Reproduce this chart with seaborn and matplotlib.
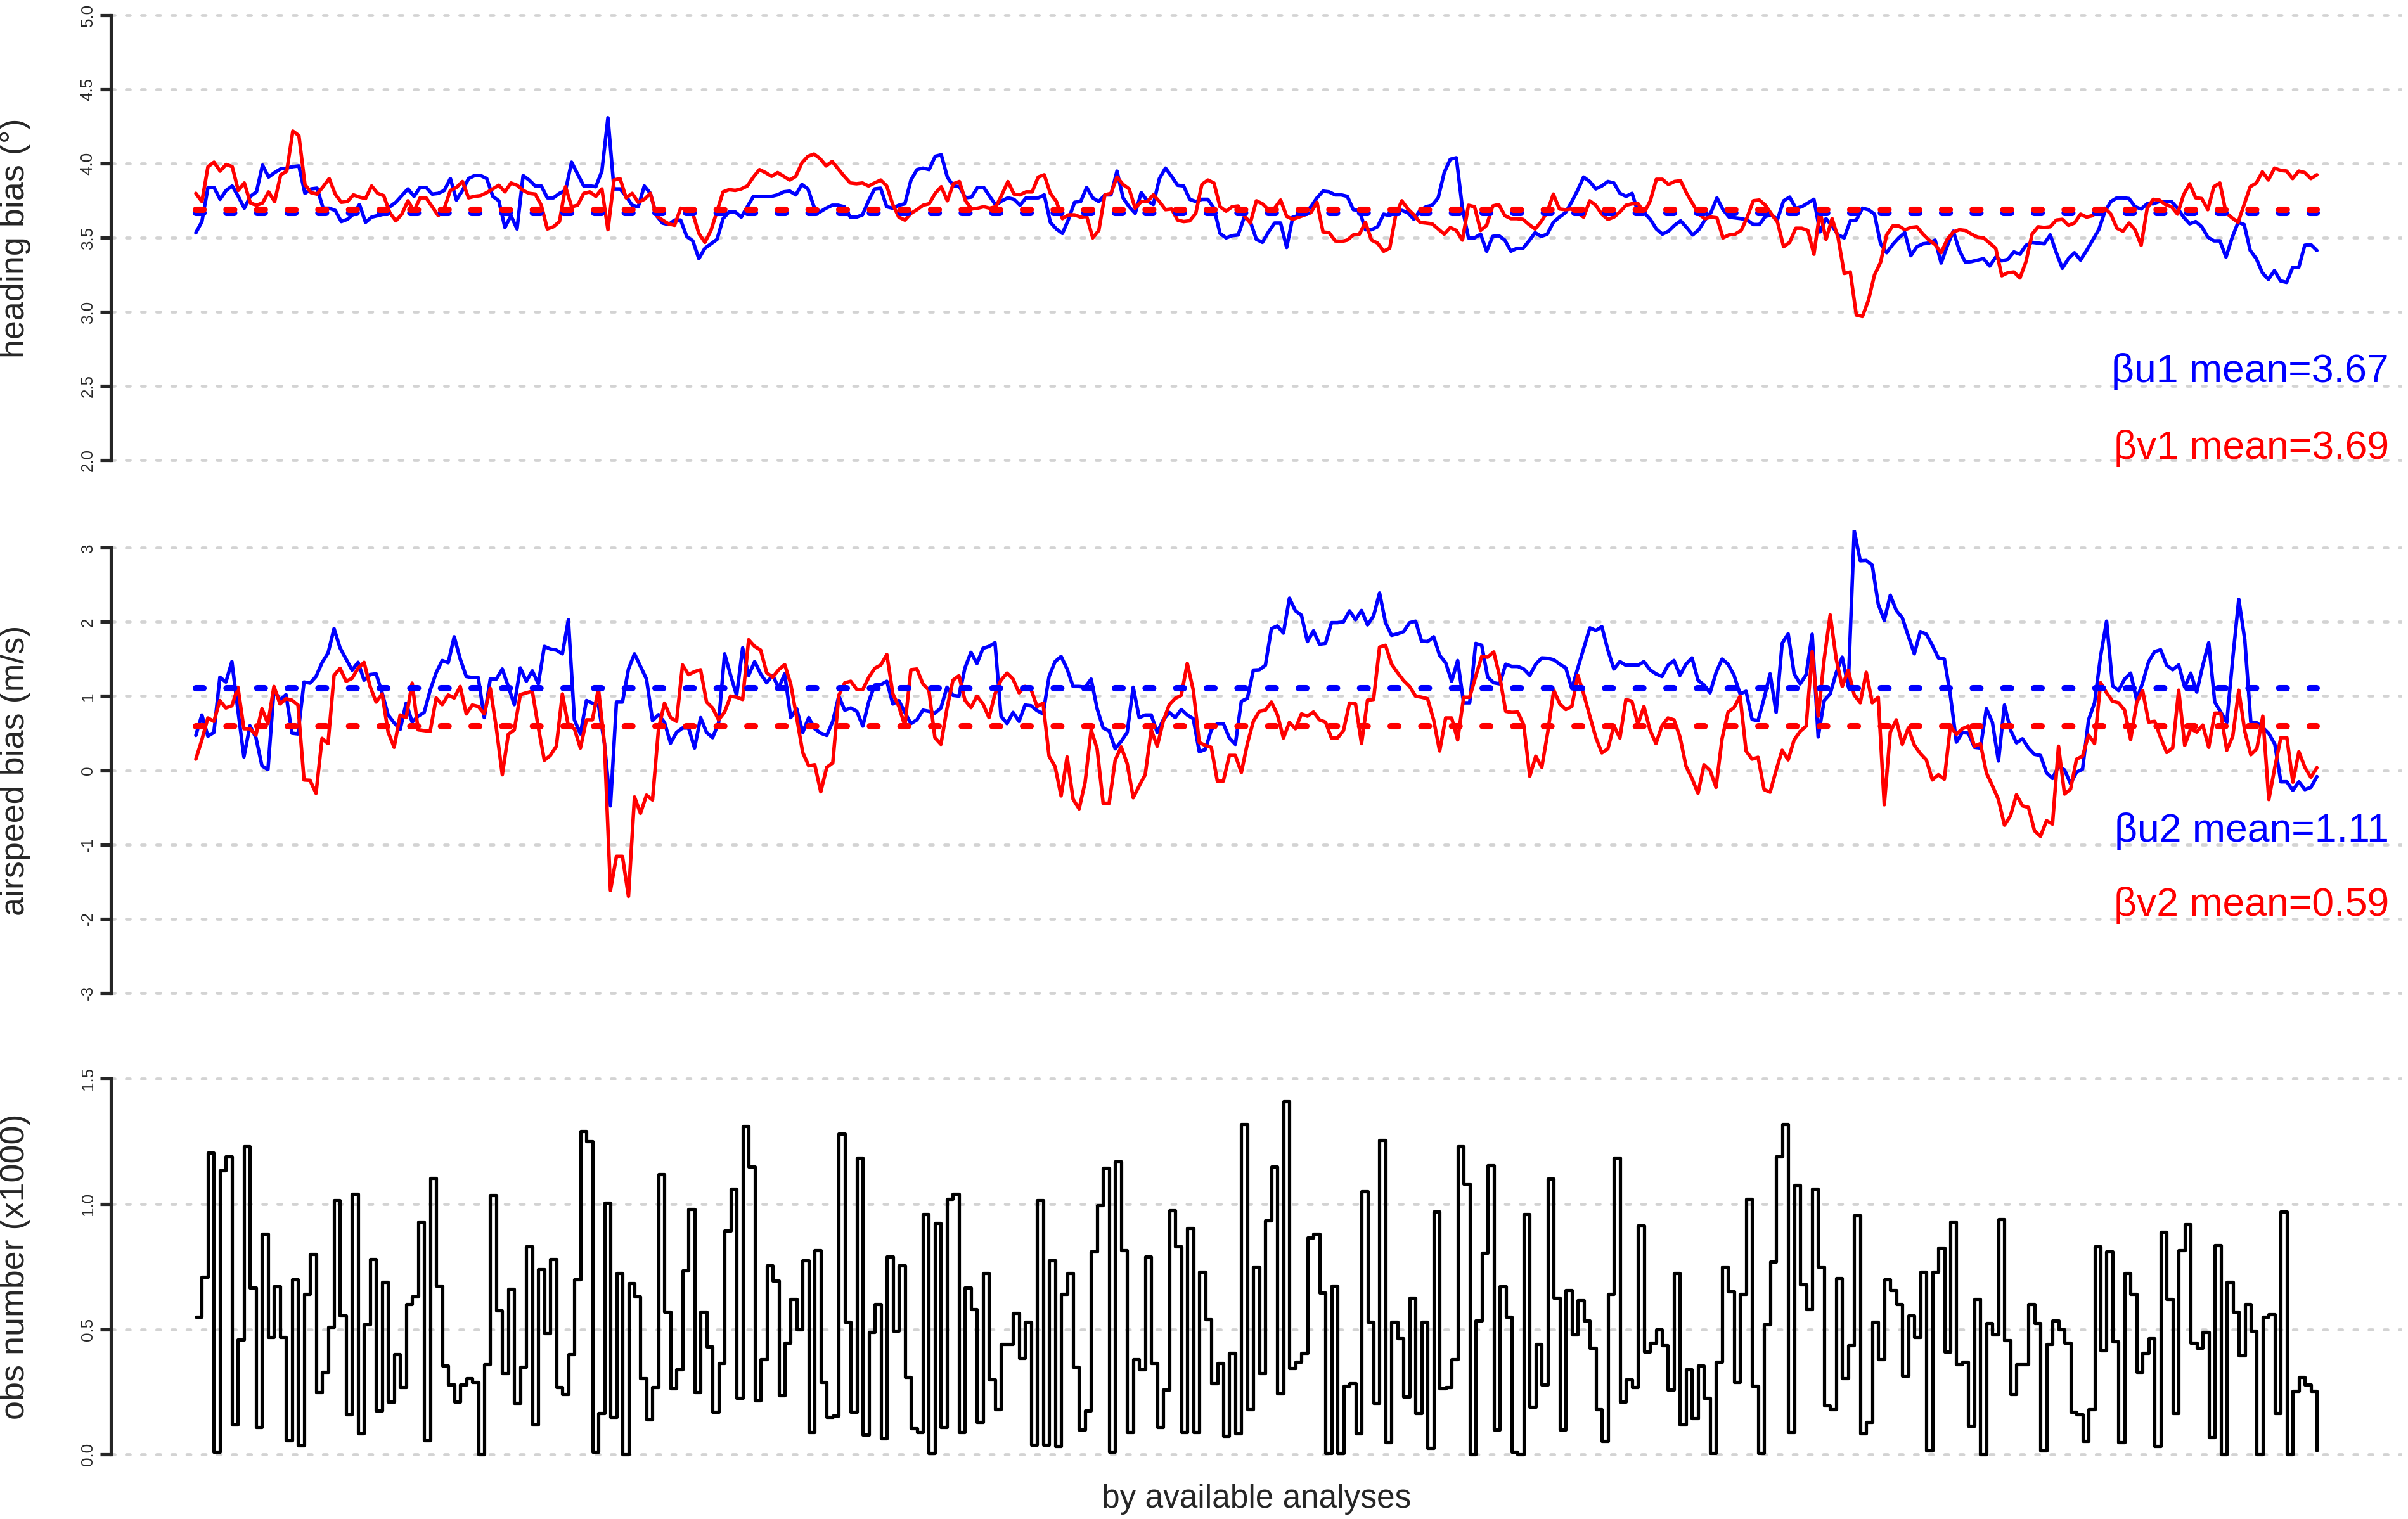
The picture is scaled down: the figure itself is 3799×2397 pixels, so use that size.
import numpy as np
import matplotlib.pyplot as plt
import seaborn as sns

# heading bias (deg)
beta_u1 = [3.534, 3.61, 3.84, 3.84, 3.76, 3.82, 3.85, 3.78, 3.70, 3.78,
           3.81, 3.99, 3.91, 3.94, 3.965, 3.97, 3.98, 3.985, 3.80, 3.83,
           3.835, 3.70, 3.70, 3.685, 3.61, 3.625, 3.66, 3.725, 3.605, 3.64,
           3.65, 3.66, 3.71, 3.74, 3.785, 3.83, 3.78, 3.84, 3.84, 3.795,
           3.80, 3.82, 3.90, 3.755, 3.82, 3.90, 3.92, 3.92, 3.90, 3.78,
           3.75, 3.57, 3.65, 3.56, 3.92, 3.89, 3.85, 3.85, 3.77, 3.77,
           3.80, 3.82, 4.01, 3.93, 3.85, 3.85, 3.845, 3.95, 4.31, 3.83,
           3.83, 3.78, 3.72, 3.71, 3.85, 3.80, 3.65, 3.60, 3.59, 3.62,
           3.62, 3.51, 3.48, 3.36, 3.43, 3.46, 3.49, 3.63, 3.675,
           3.675, 3.64, 3.71, 3.78, 3.78, 3.78, 3.78, 3.79, 3.81, 3.815,
           3.79, 3.86, 3.83, 3.71, 3.675, 3.70, 3.72, 3.72, 3.71, 3.64,
           3.64, 3.655, 3.75, 3.83, 3.835, 3.71, 3.70, 3.72, 3.73, 3.89,
           3.96, 3.97, 3.96, 4.05, 4.06, 3.91, 3.85, 3.845, 3.77, 3.775,
           3.84, 3.84, 3.78, 3.72, 3.75, 3.77, 3.76, 3.72, 3.77, 3.77,
           3.77, 3.79, 3.605, 3.56, 3.53, 3.625, 3.74, 3.745, 3.84, 3.77,
           3.745, 3.79, 3.79, 3.95, 3.77, 3.71, 3.665, 3.805, 3.75, 3.725,
           3.90, 3.97, 3.915, 3.855, 3.85, 3.76, 3.745, 3.76, 3.76, 3.70,
           3.53, 3.50, 3.515, 3.52, 3.64, 3.61, 3.49, 3.47,
           3.54, 3.60, 3.60, 3.435, 3.64, 3.65, 3.67, 3.71, 3.77, 3.815,
           3.81, 3.79, 3.79, 3.78, 3.69, 3.685, 3.555, 3.555, 3.575, 3.66,
           3.65, 3.685, 3.685, 3.67, 3.625, 3.685, 3.71, 3.72, 3.77, 3.94,
           4.03, 4.04, 3.70, 3.50, 3.50, 3.525, 3.41, 3.51, 3.515, 3.485,
           3.41, 3.43, 3.43, 3.48, 3.535, 3.51, 3.525, 3.605, 3.64, 3.67,
           3.74, 3.82, 3.91, 3.88, 3.83, 3.85, 3.88, 3.87, 3.80, 3.78,
           3.80, 3.67, 3.67, 3.625, 3.56, 3.525, 3.545, 3.585, 3.615, 3.57,
           3.52, 3.555, 3.62, 3.67, 3.77, 3.69, 3.64, 3.635, 3.63, 3.62,
           3.59, 3.59, 3.645, 3.655, 3.625, 3.75, 3.775,
           3.70, 3.71, 3.735, 3.76, 3.54, 3.63, 3.58, 3.52, 3.50, 3.615,
           3.62, 3.70, 3.69, 3.66, 3.46, 3.40, 3.455, 3.50, 3.535, 3.38,
           3.44, 3.46, 3.465, 3.485, 3.33, 3.445, 3.545, 3.415, 3.335, 3.34,
           3.35, 3.36, 3.31, 3.37, 3.345, 3.355, 3.405, 3.39, 3.45, 3.47,
           3.465, 3.46, 3.52, 3.40, 3.295, 3.36, 3.40, 3.35, 3.415, 3.485,
           3.555, 3.675, 3.745, 3.77, 3.77, 3.765, 3.71, 3.695, 3.73, 3.73,
           3.745, 3.745, 3.745, 3.70, 3.64, 3.595, 3.61, 3.575, 3.505, 3.48,
           3.48, 3.37, 3.50, 3.605, 3.59, 3.415, 3.36, 3.265, 3.22, 3.28,
           3.21, 3.20, 3.30, 3.30, 3.45, 3.455, 3.415]

beta_v1 = [3.80, 3.745, 3.98, 4.01, 3.95, 3.995, 3.98, 3.82, 3.87, 3.735,
           3.72, 3.735, 3.81, 3.745, 3.925, 3.95, 4.22, 4.19, 3.86, 3.805,
           3.795, 3.845, 3.90, 3.795, 3.74, 3.745, 3.79, 3.775, 3.765, 3.85,
           3.80, 3.785, 3.67, 3.615, 3.66, 3.75, 3.68, 3.77, 3.77, 3.71,
           3.65, 3.70, 3.82, 3.84, 3.88, 3.77, 3.78, 3.785, 3.805, 3.83,
           3.855, 3.81, 3.87, 3.855, 3.82, 3.80, 3.795, 3.72, 3.56, 3.575,
           3.61, 3.845, 3.71, 3.72, 3.80, 3.81, 3.78, 3.83, 3.555, 3.89,
           3.90, 3.77, 3.80, 3.74, 3.76, 3.80, 3.65, 3.62, 3.595, 3.585,
           3.70, 3.69, 3.665, 3.53, 3.47, 3.55, 3.68, 3.81, 3.825,
           3.82, 3.83, 3.85, 3.91, 3.96, 3.94, 3.915, 3.94, 3.915, 3.89,
           3.915, 4.005, 4.05, 4.065, 4.035, 3.985, 4.015, 3.965, 3.915, 3.87,
           3.865, 3.87, 3.85, 3.87, 3.89, 3.85, 3.725, 3.64, 3.62, 3.665,
           3.69, 3.72, 3.73, 3.80, 3.845, 3.75, 3.865, 3.88, 3.75, 3.695,
           3.70, 3.71, 3.70, 3.71, 3.79, 3.88, 3.795, 3.79, 3.81, 3.81,
           3.91, 3.925, 3.80, 3.745, 3.63, 3.655, 3.655, 3.64, 3.645, 3.50,
           3.55, 3.79, 3.80, 3.91, 3.86, 3.83, 3.70, 3.745, 3.745, 3.79,
           3.745, 3.69, 3.695, 3.62, 3.61, 3.615, 3.665, 3.86, 3.89, 3.87,
           3.71, 3.68, 3.71, 3.715, 3.65, 3.60, 3.75, 3.73,
           3.69, 3.70, 3.755, 3.645, 3.625, 3.64, 3.655, 3.67, 3.74, 3.54,
           3.535, 3.48, 3.475, 3.485, 3.52, 3.525, 3.605, 3.485, 3.465, 3.41,
           3.43, 3.655, 3.75, 3.695, 3.655, 3.605, 3.60, 3.595, 3.56, 3.525,
           3.57, 3.55, 3.485, 3.72, 3.71, 3.55, 3.585, 3.715, 3.725, 3.65,
           3.63, 3.63, 3.625, 3.59, 3.56, 3.61, 3.675, 3.795, 3.695, 3.69,
           3.695, 3.67, 3.64, 3.75, 3.72, 3.66, 3.625, 3.64, 3.675, 3.72,
           3.73, 3.73, 3.67, 3.75, 3.895, 3.895, 3.86, 3.88, 3.885, 3.80,
           3.73, 3.66, 3.63, 3.64, 3.635, 3.50, 3.52, 3.525, 3.55, 3.64,
           3.75, 3.755, 3.72, 3.66, 3.605, 3.44, 3.47,
           3.565, 3.565, 3.55, 3.39, 3.68, 3.49, 3.63, 3.50, 3.26, 3.27,
           2.98, 2.97, 3.08, 3.25, 3.335, 3.52, 3.58, 3.58, 3.555, 3.57,
           3.575, 3.525, 3.485, 3.455, 3.40, 3.49, 3.54, 3.555, 3.55, 3.525,
           3.505, 3.50, 3.465, 3.43, 3.245, 3.265, 3.27, 3.23, 3.34, 3.525,
           3.575, 3.57, 3.575, 3.62, 3.625, 3.585, 3.60, 3.66, 3.64, 3.65,
           3.695, 3.70, 3.66, 3.565, 3.545, 3.60, 3.555, 3.45, 3.70, 3.76,
           3.755, 3.725, 3.71, 3.66, 3.79, 3.865, 3.77, 3.765, 3.69, 3.845,
           3.87, 3.67, 3.635, 3.605, 3.725, 3.845, 3.87, 3.945, 3.89, 3.97,
           3.955, 3.95, 3.90, 3.95, 3.94, 3.90, 3.925]

# airspeed bias (m/s), middle panel
beta_u2 = [0.47, 0.745, 0.46, 0.51, 1.255, 1.19, 1.465, 0.81, 0.18, 0.60,
           0.44, 0.06, 0.01, 1.09, 0.945, 1.02, 0.50, 0.49, 1.19, 1.175,
           1.265, 1.45, 1.58, 1.91, 1.65, 1.50, 1.35, 1.455, 1.215, 1.29,
           1.30, 1.045, 0.745, 0.64, 0.55, 0.905, 0.65, 0.73, 0.78, 1.08,
           1.315, 1.48, 1.45, 1.80, 1.50, 1.265, 1.25, 1.25, 0.71, 1.23,
           1.23, 1.365, 1.13, 0.885, 1.38, 1.20, 1.34, 1.165, 1.67, 1.635,
           1.62, 1.57, 2.03, 0.68, 0.49, 0.94, 0.905, 0.88, 0.36, -0.48,
           0.92, 0.92, 1.365, 1.57, 1.40, 1.23, 0.67, 0.75, 0.645, 0.365,
           0.51, 0.57, 0.57, 0.30, 0.71, 0.51, 0.44, 0.64, 1.57, 1.28,
           1.01, 1.65, 1.28, 1.465, 1.30, 1.18, 1.28, 1.11, 1.30, 0.71,
           0.83, 0.51, 0.71, 0.56, 0.50, 0.47, 0.66, 1.00, 0.81, 0.84,
           0.795, 0.595, 0.93, 1.15, 1.155, 1.20, 0.895, 0.94, 0.78, 0.63,
           0.68, 0.81, 0.795, 0.77, 0.84, 1.12, 1.01, 1.00, 1.38, 1.59,
           1.44, 1.645, 1.67, 1.72, 0.73, 0.63, 0.78, 0.66, 0.88, 0.87,
           0.805, 0.76, 1.265, 1.465, 1.535, 1.365, 1.13, 1.13, 1.12, 1.23,
           0.83, 0.57, 0.53, 0.29, 0.39, 0.51, 1.12, 0.71, 0.745, 0.745,
           0.51, 0.68, 0.78, 0.71, 0.82, 0.745, 0.695, 0.25, 0.28, 0.545,
           0.63, 0.63, 0.435, 0.35, 0.93, 0.97, 1.35, 1.355,
           1.415, 1.91, 1.945, 1.85, 2.32, 2.15, 2.09, 1.735, 1.88, 1.70,
           1.71, 1.99, 1.99, 2.00, 2.15, 2.03, 2.155, 1.96, 2.08, 2.39,
           1.99, 1.82, 1.84, 1.87, 1.99, 2.01, 1.74, 1.735, 1.80, 1.55,
           1.45, 1.20, 1.48, 0.91, 0.91, 1.71, 1.685, 1.255, 1.18, 1.165,
           1.43, 1.40, 1.40, 1.365, 1.28, 1.43, 1.515, 1.51, 1.49, 1.43,
           1.38, 1.10, 1.38, 1.65, 1.92, 1.885, 1.935, 1.62, 1.365, 1.465,
           1.415, 1.42, 1.415, 1.465, 1.355, 1.30, 1.265, 1.415, 1.48, 1.28,
           1.43, 1.515, 1.215, 1.15, 1.045, 1.315, 1.50, 1.43, 1.28, 1.03,
           1.065, 0.685, 0.67, 0.97, 1.30, 0.78, 1.71, 1.84, 1.30,
           1.165, 1.29, 1.835, 0.45, 0.94, 1.03, 1.315, 1.525, 1.13, 3.23,
           2.825, 2.83, 2.765, 2.24, 2.02, 2.36, 2.155, 2.055, 1.81, 1.57,
           1.87, 1.835, 1.685, 1.515, 1.50, 1.01, 0.38, 0.51, 0.50, 0.31,
           0.30, 0.83, 0.645, 0.125, 0.88, 0.545, 0.37, 0.425, 0.30, 0.215,
           0.20, -0.035, -0.11, 0.055, 0.005, -0.18, -0.025, 0.015, 0.68, 0.91,
           1.535, 2.01, 1.14, 1.075, 1.23, 1.31, 0.95, 1.18, 1.465, 1.60,
           1.625, 1.415, 1.355, 1.42, 1.12, 1.31, 1.055, 1.41, 1.72, 0.92,
           0.785, 0.645, 1.51, 2.305, 1.76, 0.65, 0.64, 0.575, 0.495, 0.35,
           -0.155, -0.155, -0.27, -0.155, -0.26, -0.23, -0.085]

beta_v2 = [0.15, 0.41, 0.705, 0.66, 0.94, 0.84, 0.87, 1.12, 0.56, 0.56,
           0.475, 0.83, 0.63, 1.13, 0.895, 0.965, 0.945, 0.88, -0.13, -0.135,
           -0.31, 0.43, 0.36, 1.28, 1.375, 1.20, 1.24, 1.375, 1.455, 1.13,
           0.92, 1.03, 0.515, 0.31, 0.745, 0.71, 1.175, 0.545, 0.535, 0.525,
           0.975, 0.885, 1.015, 0.975, 1.13, 0.76, 0.88, 0.86, 0.76, 1.105,
           0.575, -0.06, 0.485, 0.545, 1.02, 1.045, 1.065, 0.575, 0.135, 0.20,
           0.325, 1.03, 0.595, 0.56, 0.30, 0.68, 0.68, 1.10, 0.36, -1.62,
           -1.16, -1.16, -1.70, -0.36, -0.58, -0.335, -0.40, 0.56, 0.905, 0.71,
           0.66, 1.42, 1.29, 1.33, 1.355, 0.92, 0.84, 0.68, 0.785, 1.00,
           0.985, 0.955, 1.76, 1.67, 1.62, 1.315, 1.255, 1.355, 1.425, 1.165,
           0.71, 0.24, 0.06, 0.075, -0.29, 0.04, 0.10, 1.01, 1.18, 1.20,
           1.09, 1.09, 1.255, 1.375, 1.42, 1.56, 1.03, 0.86, 0.60, 1.355,
           1.365, 1.165, 1.08, 0.44, 0.35, 0.83, 1.215, 1.275, 0.945, 0.845,
           1.00, 0.895, 0.71, 1.03, 1.215, 1.31, 1.23, 1.045, 1.13, 1.09,
           0.86, 0.905, 0.19, 0.05, -0.345, 0.18, -0.39, -0.52, -0.16, 0.545,
           0.29, -0.445, -0.445, 0.135, 0.315, 0.09, -0.37, -0.21, -0.06, 0.545,
           0.325, 0.66, 0.885, 0.97, 1.01, 1.44, 1.08, 0.375, 0.335, 0.31,
           -0.145, -0.145, 0.20, 0.20, -0.03, 0.36, 0.66, 0.795,
           0.81, 0.92, 0.75, 0.435, 0.645, 0.56, 0.76, 0.73, 0.785, 0.68,
           0.65, 0.435, 0.435, 0.535, 0.905, 0.895, 0.36, 0.945, 0.955, 1.66,
           1.685, 1.43, 1.315, 1.21, 1.13, 1.00, 0.985, 0.965, 0.68, 0.26,
           0.705, 0.705, 0.41, 0.985, 0.985, 1.265, 1.535, 1.525, 1.595, 1.265,
           0.795, 0.78, 0.785, 0.61, -0.08, 0.19, 0.04, 0.515, 1.08, 0.895,
           0.82, 0.86, 1.28, 1.02, 0.73, 0.44, 0.235, 0.29, 0.60, 0.435,
           0.955, 0.93, 0.62, 0.86, 0.545, 0.36, 0.60, 0.705, 0.68, 0.45,
           0.055, -0.11, -0.31, 0.075, 0.0, -0.23, 0.425, 0.785, 0.845, 1.00,
           0.26, 0.15, 0.175, -0.26, -0.295, 0.0, 0.27, 0.14, 0.41,
           0.525, 0.595, 1.60, 0.73, 1.50, 2.095, 1.50, 1.13, 1.35, 1.015,
           0.91, 1.32, 0.91, 0.985, -0.465, 0.515, 0.68, 0.35, 0.57, 0.34,
           0.225, 0.14, -0.13, -0.06, -0.12, 0.595, 0.485, 0.56, 0.595, 0.325,
           0.36, -0.035, -0.21, -0.395, -0.74, -0.615, -0.33, -0.48, -0.50, -0.815,
           -0.89, -0.68, -0.725, 0.325, -0.32, -0.255, 0.15, 0.19, 0.475, 0.36,
           1.18, 1.045, 0.93, 0.91, 0.81, 0.415, 0.91, 1.075, 0.65, 0.66,
           0.44, 0.24, 0.30, 1.08, 0.335, 0.56, 0.515, 0.61, 0.31, 0.77,
           0.77, 0.27, 0.46, 1.08, 0.525, 0.21, 0.29, 0.73, -0.395, 0.04,
           0.44, 0.44, -0.16, 0.25, 0.04, -0.095, 0.035]

# obs number (x1000), bottom step panel
obs_k = [0.55, 0.71, 1.205, 0.01, 1.135, 1.19, 0.12, 0.46, 1.23, 0.665,
         0.11, 0.88, 0.47, 0.67, 0.47, 0.056, 0.70, 0.036, 0.64, 0.80,
         0.25, 0.33, 0.51, 1.015, 0.555, 0.16, 1.04, 0.085, 0.52, 0.78,
         0.175, 0.69, 0.21, 0.40, 0.27, 0.60, 0.63, 0.93, 0.056, 1.105,
         0.675, 0.356, 0.28, 0.21, 0.28, 0.305, 0.29, 0.0, 0.36, 1.035,
         0.575, 0.325, 0.66, 0.205, 0.35, 0.83, 0.12, 0.74, 0.485, 0.78,
         0.27, 0.24, 0.40, 0.70, 1.29, 1.25, 0.01, 0.165, 1.005, 0.15,
         0.725, 0.0, 0.685, 0.63, 0.305, 0.14, 0.27, 1.12, 0.57, 0.265,
         0.34, 0.735, 0.98, 0.25, 0.57, 0.43, 0.17, 0.365, 0.895,
         1.06, 0.225, 1.31, 1.15, 0.215, 0.38, 0.755, 0.695, 0.235, 0.445,
         0.62, 0.50, 0.775, 0.09, 0.815, 0.29, 0.15, 0.155, 1.28, 0.53,
         0.17, 1.185, 0.08, 0.49, 0.60, 0.065, 0.79, 0.495, 0.755, 0.31,
         0.105, 0.09, 0.96, 0.005, 0.925, 0.11, 1.02, 1.04, 0.09, 0.665,
         0.58, 0.13, 0.725, 0.30, 0.18, 0.44, 0.44, 0.565, 0.385, 0.53,
         0.04, 1.015, 0.04, 0.775, 0.035, 0.64, 0.725, 0.35, 0.10, 0.175,
         0.81, 0.995, 1.145, 0.01, 1.17, 0.815, 0.09, 0.38, 0.34, 0.79,
         0.365, 0.11, 0.26, 0.975, 0.83, 0.09, 0.905, 0.09, 0.73, 0.54,
         0.285, 0.365, 0.075, 0.405, 0.085, 1.32, 0.18, 0.75, 0.325, 0.935,
         1.15, 0.245, 1.41, 0.345, 0.37, 0.405, 0.865, 0.88, 0.645, 0.005,
         0.675, 0.005, 0.275, 0.285, 0.085, 1.05, 0.53, 0.205, 1.255, 0.05,
         0.53, 0.465, 0.23, 0.625, 0.165, 0.53, 0.025, 0.97, 0.265, 0.27,
         0.38, 1.23, 1.08, 0.0, 0.535, 0.805, 1.155, 0.10, 0.67, 0.55,
         0.01, 0.0, 0.96, 0.19, 0.44, 0.28, 1.10, 0.625, 0.10, 0.655,
         0.48, 0.615, 0.535, 0.425, 0.18, 0.055, 0.64, 1.185, 0.21, 0.30,
         0.27, 0.915, 0.41, 0.445, 0.50, 0.435, 0.26, 0.725, 0.12, 0.34,
         0.145, 0.355, 0.225, 0.005, 0.37, 0.75, 0.65, 0.29, 0.64, 1.02,
         0.275, 0.005, 0.52, 0.77, 1.19, 1.32,
         0.09, 1.075, 0.68, 0.58, 1.06, 0.75, 0.195, 0.18, 0.705, 0.305,
         0.435, 0.955, 0.085, 0.13, 0.53, 0.38, 0.70, 0.655, 0.60, 0.315,
         0.555, 0.47, 0.73, 0.015, 0.73, 0.825, 0.41, 0.93, 0.36, 0.37,
         0.115, 0.62, 0.0, 0.525, 0.48, 0.94, 0.455, 0.24, 0.36, 0.36,
         0.60, 0.525, 0.015, 0.44, 0.535, 0.50, 0.445, 0.17, 0.16, 0.055,
         0.18, 0.83, 0.415, 0.81, 0.45, 0.05, 0.725, 0.64, 0.33, 0.405,
         0.465, 0.035, 0.89, 0.62, 0.165, 0.815, 0.92, 0.445, 0.425, 0.49,
         0.07, 0.835, 0.0, 0.69, 0.57, 0.395, 0.60, 0.495, 0.0, 0.55,
         0.56, 0.165, 0.97, 0.0, 0.255, 0.31, 0.28, 0.255, 0.017]

mean_u1, mean_v1 = 3.67, 3.69
mean_u2, mean_v2 = 1.11, 0.59

heading_ticks = [2.0, 2.5, 3.0, 3.5, 4.0, 4.5, 5.0]
heading_labels = ["2.0", "2.5", "3.0", "3.5", "4.0", "4.5", "5.0"]
airspeed_ticks = [-3, -2, -1, 0, 1, 2, 3]
airspeed_labels = ["-3", "-2", "-1", "0", "1", "2", "3"]
obs_ticks = [0.0, 0.5, 1.0, 1.5]
obs_labels = ["0.0", "0.5", "1.0", "1.5"]

sns.set_style("ticks")
plt.rcParams['font.family'] = ['Liberation Sans', 'DejaVu Sans']

n = len(obs_k)
x = np.arange(1, n + 1)
pad = 0.04 * (n - 1)

fig = plt.figure(figsize=(3799 / 250, 2397 / 250), dpi=250)
ax1 = fig.add_axes([0.0461, 0.6852, 0.9513, 0.3164])
ax2 = fig.add_axes([0.0461, 0.3347, 0.9513, 0.3164])
ax3 = fig.add_axes([0.0461, 0.0325, 0.9513, 0.2672])


def style_panel(ax, ticks, labels, ylim, ylabel):
    ax.set_xlim(1 - pad, n + pad)
    ax.set_ylim(ylim)
    for t in ticks:
        ax.axhline(t, color='lightgray', lw=1.35, ls=(0, (1.3, 3.8)),
                   dash_capstyle='round', zorder=0)
    ax.set_xticks([])
    ax.set_yticks(ticks)
    ax.set_yticklabels(labels, rotation=90, va='center', fontsize=7.5)
    ax.tick_params(axis='y', length=5, width=1.5, pad=2)
    sns.despine(ax=ax, bottom=True)
    ax.spines['left'].set_bounds(ticks[0], ticks[-1])
    ax.spines['left'].set_linewidth(1.5)
    ax.set_ylabel(ylabel, fontsize=15.5, va='center')
    ax.yaxis.set_label_coords(-0.0418, 0.5)


def draw_pair(ax, u, v, mu, mv):
    xu = np.linspace(1, n, len(u))
    xv = np.linspace(1, n, len(v))
    sns.lineplot(x=xu, y=u, color='blue', lw=1.6, sort=False, estimator=None, ax=ax)
    sns.lineplot(x=xv, y=v, color='red', lw=1.6, sort=False, estimator=None, ax=ax)
    for m, c in [(mu, 'blue'), (mv, 'red')]:
        sns.lineplot(x=[1, n], y=[m, m], color=c, lw=2.9, ls=(0, (1.2, 3.6)),
                     dash_capstyle='round', sort=False, estimator=None, ax=ax)


draw_pair(ax1, beta_u1, beta_v1, mean_u1, mean_v1)
style_panel(ax1, heading_ticks, heading_labels, (1.88, 5.12), "heading bias (°)")
ax1.text(366, 2.6, f"βu1 mean={mean_u1:.2f}", color='blue', ha='right', va='center', fontsize=18)
ax1.text(366, 2.08, f"βv1 mean={mean_v1:.2f}", color='red', ha='right', va='center', fontsize=18)

draw_pair(ax2, beta_u2, beta_v2, mean_u2, mean_v2)
style_panel(ax2, airspeed_ticks, airspeed_labels, (-3.24, 3.24), "airspeed bias (m/s)")
ax2.text(366, -0.82, f"βu2 mean={mean_u2:.2f}", color='blue', ha='right', va='center', fontsize=18)
ax2.text(366, -1.82, f"βv2 mean={mean_v2:.2f}", color='red', ha='right', va='center', fontsize=18)

sns.lineplot(x=x, y=obs_k, color='black', lw=1.5, drawstyle='steps-post',
             sort=False, estimator=None, ax=ax3)
style_panel(ax3, obs_ticks, obs_labels, (-0.06, 1.56), "obs number (x1000)")
ax3.set_xlabel("by available analyses", fontsize=14.8, va='center')
ax3.xaxis.set_label_coords(0.5, -0.0726)

fig.savefig("out.png", dpi=250)
